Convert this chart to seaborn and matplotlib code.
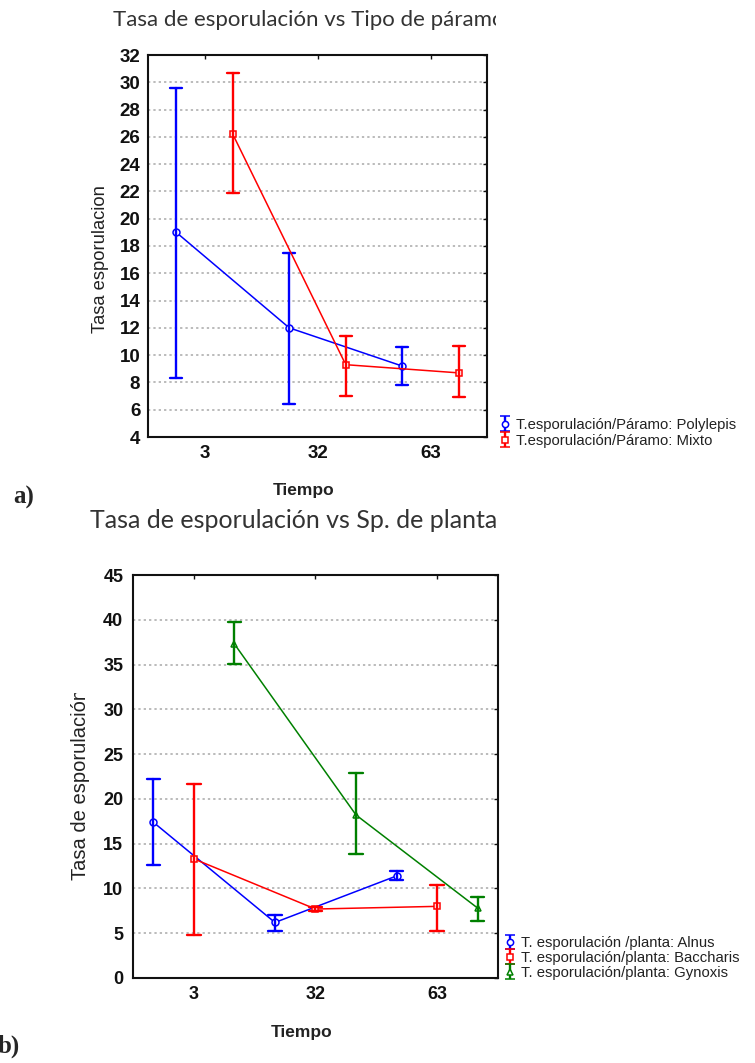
import numpy as np
import pandas as pd
import seaborn as sns
import matplotlib.pyplot as plt
from matplotlib.transforms import Bbox, TransformedBbox

tiempo = ['3', '32', '63']

# a) tasa de esporulación por tipo de páramo: media, límite inferior, límite superior
polylepis_mean = [19.0, 12.0, 9.2]
polylepis_low = [8.3, 6.4, 7.8]
polylepis_high = [29.6, 17.5, 10.6]
mixto_mean = [26.2, 9.3, 8.7]
mixto_low = [21.9, 7.0, 6.9]
mixto_high = [30.7, 11.4, 10.7]

# b) tasa de esporulación por especie de planta
alnus_mean = [17.4, 6.2, 11.4]
alnus_low = [12.6, 5.3, 10.9]
alnus_high = [22.2, 7.0, 11.9]
baccharis_mean = [13.3, 7.7, 8.0]
baccharis_low = [4.8, 7.5, 5.3]
baccharis_high = [21.7, 7.9, 10.4]
gynoxis_mean = [37.3, 18.2, 7.8]
gynoxis_low = [35.1, 13.8, 6.4]
gynoxis_high = [39.8, 22.9, 9.1]

labels_a = ['T.esporulación/Páramo: Polylepis', 'T.esporulación/Páramo: Mixto']
labels_b = ['T. esporulación /planta: Alnus', 'T. esporulación/planta: Baccharis',
            'T. esporulación/planta: Gynoxis']


def long_df(groups):
    # three rows per point (low, mean, high): median gives the mean, min/max give the bar
    rows = []
    for name, (mean, low, high) in groups.items():
        for t, m, lo, hi in zip(tiempo, mean, low, high):
            for v in (lo, m, hi):
                rows.append({'Tiempo': t, 'Serie': name, 'Tasa': v})
    return pd.DataFrame(rows)


df_a = long_df({'Polylepis': (polylepis_mean, polylepis_low, polylepis_high),
                'Mixto': (mixto_mean, mixto_low, mixto_high)})
df_b = long_df({'Alnus': (alnus_mean, alnus_low, alnus_high),
                'Baccharis': (baccharis_mean, baccharis_low, baccharis_high),
                'Gynoxis': (gynoxis_mean, gynoxis_low, gynoxis_high)})

sns.set_style('white')
plt.rcParams['font.family'] = ['Liberation Sans', 'DejaVu Sans']

W, H = 755, 1063
fig = plt.figure(figsize=(W / 100, H / 100), dpi=100)


def fx(px):
    return px / W


def fy(py):
    return 1 - py / H


ax_a = fig.add_axes([fx(148), fy(437), fx(487) - fx(148), fy(55) - fy(437)])
ax_b = fig.add_axes([fx(133), fy(978), fx(498) - fx(133), fy(575) - fy(978)])


def draw(ax, df, order, colors, markers, dodge, ylim, yticks, ypad, tsize):
    sns.pointplot(data=df, x='Tiempo', y='Tasa', hue='Serie', order=tiempo,
                  hue_order=order, palette=colors, markers=markers, linestyles='-',
                  dodge=dodge, estimator='median',
                  errorbar=lambda v: (v.min(), v.max()),
                  capsize=0.11, err_kws={'linewidth': 1.7},
                  linewidth=1.1, markersize=5, markeredgewidth=1.1,
                  markerfacecolor='white', legend=False, ax=ax)
    ax.set_xlim(-0.5, 2.5)
    ax.set_ylim(*ylim)
    ax.set_yticks(yticks)
    ax.set_xlabel('')
    ax.set_ylabel('')
    ax.yaxis.grid(True, linestyle=(0, (1.5, 2)), color='#a8a8a8', linewidth=1.1)
    ax.xaxis.grid(False)
    ax.set_axisbelow(True)
    for s in ax.spines.values():
        s.set_visible(True)
        s.set_linewidth(1.5)
        s.set_color('#111111')
    ax.tick_params(axis='both', direction='in', length=3, width=1,
                   top=True, right=True, labelsize=tsize, colors='#111111')
    ax.tick_params(axis='y', pad=ypad)
    ax.tick_params(axis='x', pad=6)
    for t in ax.get_xticklabels() + ax.get_yticklabels():
        t.set_fontweight('bold')


draw(ax_a, df_a, ['Polylepis', 'Mixto'], ['#0000ff', '#ff0000'], ['o', 's'],
     0.5, (4, 32), range(4, 33, 2), 5.5, 13.5)
draw(ax_b, df_b, ['Alnus', 'Baccharis', 'Gynoxis'], ['#0000ff', '#ff0000', '#008000'],
     ['o', 's', '^'], 2 / 3, (0, 45), range(0, 46, 5), 7, 13)


def legend(ax, labels, colors, markers, anchor, spacing):
    handles = []
    for lab, c, m in zip(labels, colors, markers):
        h = ax.errorbar([np.nan], [np.nan], yerr=[1], color=c, marker=m, mfc='white',
                        ms=4.5, mew=1.1, capsize=3.5, elinewidth=1.7, capthick=1.7,
                        linestyle='none', label=lab)
        handles.append(h)
    fig.legend(handles=handles, loc='center left', bbox_to_anchor=anchor,
               frameon=False, fontsize=10.7, handlelength=0.7, handletextpad=0.4,
               labelspacing=spacing, borderpad=0, borderaxespad=0,
               labelcolor='#222222')


legend(ax_a, labels_a, ['#0000ff', '#ff0000'], ['o', 's'], (fx(500), fy(433)), 0.15)
legend(ax_b, labels_b, ['#0000ff', '#ff0000', '#008000'], ['o', 's', '^'],
       (fx(505), fy(958)), 0.05)


def clipped(t, x0, y0, x1, y1):
    t.set_clip_box(TransformedBbox(Bbox([[fx(x0), fy(y1)], [fx(x1), fy(y0)]]),
                                   fig.transFigure))
    t.set_clip_on(True)


# titles (cut at the right edge as in the source)
t = fig.text(fx(113), fy(20), 'Tasa de esporulación vs Tipo de páramo', fontsize=16,
             family='Lato', color='#333333', ha='left', va='center')
clipped(t, 0, 0, 496, 60)
t = fig.text(fx(90), fy(521), 'Tasa de esporulación vs Sp. de planta', fontsize=18,
             family='Lato', color='#333333', ha='left', va='center')
clipped(t, 0, 500, 496, 545)

# axis labels
fig.text(fx(100), fy(259), 'Tasa esporulacion', rotation=90, fontsize=13.2,
         color='#222222', ha='center', va='center')
t = fig.text(fx(80), fy(880), 'Tasa de esporulación', rotation=90, fontsize=14.5,
             color='#222222', ha='center', va='bottom')
clipped(t, 0, 693, 120, 900)
fig.text(fx(304), fy(490), 'Tiempo', fontsize=12.5, fontweight='bold',
         color='#222222', ha='center', va='center')
fig.text(fx(302), fy(1033), 'Tiempo', fontsize=12.5, fontweight='bold',
         color='#222222', ha='center', va='center')

# panel letters
fig.text(fx(13), fy(497), 'a)', fontsize=18, fontweight='bold',
         family='Liberation Serif', ha='left', va='center')
fig.text(fx(-2), fy(1046), 'b)', fontsize=18, fontweight='bold',
         family='Liberation Serif', ha='left', va='center')

fig.savefig('out.png', dpi=100, facecolor='white')
